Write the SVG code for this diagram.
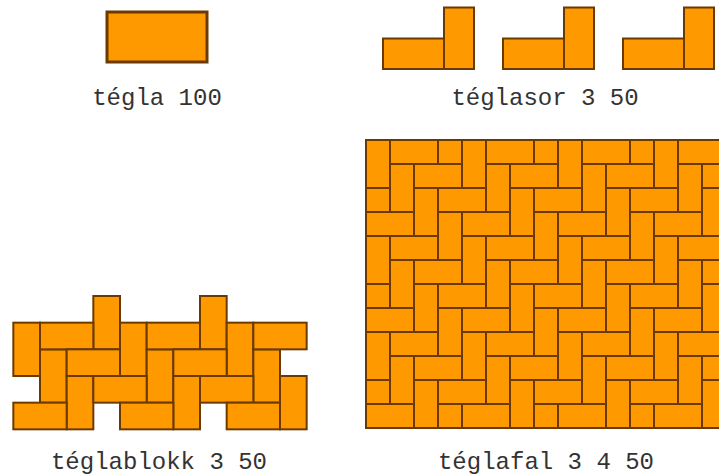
<svg xmlns="http://www.w3.org/2000/svg" xmlns:xlink="http://www.w3.org/1999/xlink" width="719" height="476" viewBox="0 0 719 476">
  <style>
    .b { fill: #ff9900; stroke: #6b3a00; stroke-width: 2; }
    .big { fill: #ff9900; stroke: #6b3a00; stroke-width: 3; }
    .lbl { font-family: "Liberation Mono", "Courier New", monospace; font-size: 24px; fill: #333333; text-anchor: middle; }
  </style>
  <defs>
    <rect id="wh" class="b" width="48" height="24"/>
    <rect id="wv" class="b" width="24" height="48"/>
    <rect id="bh" class="b" width="53.333" height="26.667"/>
    <rect id="bv" class="b" width="26.667" height="53.333"/>
    <g id="L">
      <rect class="b" x="0" y="31" width="61" height="30.5"/>
      <rect class="b" x="61" y="0" width="30" height="61.5"/>
    </g>
    <clipPath id="wallclip">
      <rect x="366" y="140" width="360" height="288"/>
    </clipPath>
  </defs>

  <g id="tegla">
    <rect class="big" x="107" y="12" width="100" height="50"/>
    <text class="lbl" x="157" y="105">tégla 100</text>
  </g>

  <g id="teglasor">
    <use xlink:href="#L" x="383" y="7.5"/>
    <use xlink:href="#L" x="503" y="7.5"/>
    <use xlink:href="#L" x="623" y="7.5"/>
    <text class="lbl" x="545" y="105">téglasor 3 50</text>
  </g>

  <g id="teglablokk">
    <g transform="translate(13.333,296)">
      <use xlink:href="#bv" x="80" y="0"/>
      <use xlink:href="#bv" x="186.667" y="0"/>
      <use xlink:href="#bv" x="0" y="26.667"/>
      <use xlink:href="#bv" x="106.667" y="26.667"/>
      <use xlink:href="#bv" x="213.333" y="26.667"/>
      <use xlink:href="#bv" x="26.667" y="53.333"/>
      <use xlink:href="#bv" x="133.333" y="53.333"/>
      <use xlink:href="#bv" x="240" y="53.333"/>
      <use xlink:href="#bv" x="53.333" y="80"/>
      <use xlink:href="#bv" x="160" y="80"/>
      <use xlink:href="#bv" x="266.667" y="80"/>
      <use xlink:href="#bh" x="26.667" y="26.667"/>
      <use xlink:href="#bh" x="133.333" y="26.667"/>
      <use xlink:href="#bh" x="240" y="26.667"/>
      <use xlink:href="#bh" x="53.333" y="53.333"/>
      <use xlink:href="#bh" x="160" y="53.333"/>
      <use xlink:href="#bh" x="80" y="80"/>
      <use xlink:href="#bh" x="186.667" y="80"/>
      <use xlink:href="#bh" x="0" y="106.667"/>
      <use xlink:href="#bh" x="106.667" y="106.667"/>
      <use xlink:href="#bh" x="213.333" y="106.667"/>
    </g>
    <text class="lbl" x="159" y="469">téglablokk 3 50</text>
  </g>

  <g id="teglafal">
    <g clip-path="url(#wallclip)">
      <use xlink:href="#wh" x="390" y="140"/><use xlink:href="#wh" x="486" y="140"/><use xlink:href="#wh" x="582" y="140"/><use xlink:href="#wh" x="678" y="140"/>
      <use xlink:href="#wh" x="414" y="164"/><use xlink:href="#wh" x="510" y="164"/><use xlink:href="#wh" x="606" y="164"/><use xlink:href="#wh" x="702" y="164"/>
      <use xlink:href="#wh" x="342" y="188"/><use xlink:href="#wh" x="438" y="188"/><use xlink:href="#wh" x="534" y="188"/><use xlink:href="#wh" x="630" y="188"/>
      <use xlink:href="#wh" x="366" y="212"/><use xlink:href="#wh" x="462" y="212"/><use xlink:href="#wh" x="558" y="212"/><use xlink:href="#wh" x="654" y="212"/>
      <use xlink:href="#wh" x="390" y="236"/><use xlink:href="#wh" x="486" y="236"/><use xlink:href="#wh" x="582" y="236"/><use xlink:href="#wh" x="678" y="236"/>
      <use xlink:href="#wh" x="414" y="260"/><use xlink:href="#wh" x="510" y="260"/><use xlink:href="#wh" x="606" y="260"/><use xlink:href="#wh" x="702" y="260"/>
      <use xlink:href="#wh" x="342" y="284"/><use xlink:href="#wh" x="438" y="284"/><use xlink:href="#wh" x="534" y="284"/><use xlink:href="#wh" x="630" y="284"/>
      <use xlink:href="#wh" x="366" y="308"/><use xlink:href="#wh" x="462" y="308"/><use xlink:href="#wh" x="558" y="308"/><use xlink:href="#wh" x="654" y="308"/>
      <use xlink:href="#wh" x="390" y="332"/><use xlink:href="#wh" x="486" y="332"/><use xlink:href="#wh" x="582" y="332"/><use xlink:href="#wh" x="678" y="332"/>
      <use xlink:href="#wh" x="414" y="356"/><use xlink:href="#wh" x="510" y="356"/><use xlink:href="#wh" x="606" y="356"/><use xlink:href="#wh" x="702" y="356"/>
      <use xlink:href="#wh" x="342" y="380"/><use xlink:href="#wh" x="438" y="380"/><use xlink:href="#wh" x="534" y="380"/><use xlink:href="#wh" x="630" y="380"/>
      <use xlink:href="#wh" x="366" y="404"/><use xlink:href="#wh" x="462" y="404"/><use xlink:href="#wh" x="558" y="404"/><use xlink:href="#wh" x="654" y="404"/>

      <use xlink:href="#wv" x="366" y="140"/><use xlink:href="#wv" x="366" y="236"/><use xlink:href="#wv" x="366" y="332"/>
      <use xlink:href="#wv" x="390" y="164"/><use xlink:href="#wv" x="390" y="260"/><use xlink:href="#wv" x="390" y="356"/>
      <use xlink:href="#wv" x="414" y="188"/><use xlink:href="#wv" x="414" y="284"/><use xlink:href="#wv" x="414" y="380"/>
      <use xlink:href="#wv" x="438" y="116"/><use xlink:href="#wv" x="438" y="212"/><use xlink:href="#wv" x="438" y="308"/><use xlink:href="#wv" x="438" y="404"/>
      <use xlink:href="#wv" x="462" y="140"/><use xlink:href="#wv" x="462" y="236"/><use xlink:href="#wv" x="462" y="332"/>
      <use xlink:href="#wv" x="486" y="164"/><use xlink:href="#wv" x="486" y="260"/><use xlink:href="#wv" x="486" y="356"/>
      <use xlink:href="#wv" x="510" y="188"/><use xlink:href="#wv" x="510" y="284"/><use xlink:href="#wv" x="510" y="380"/>
      <use xlink:href="#wv" x="534" y="116"/><use xlink:href="#wv" x="534" y="212"/><use xlink:href="#wv" x="534" y="308"/><use xlink:href="#wv" x="534" y="404"/>
      <use xlink:href="#wv" x="558" y="140"/><use xlink:href="#wv" x="558" y="236"/><use xlink:href="#wv" x="558" y="332"/>
      <use xlink:href="#wv" x="582" y="164"/><use xlink:href="#wv" x="582" y="260"/><use xlink:href="#wv" x="582" y="356"/>
      <use xlink:href="#wv" x="606" y="188"/><use xlink:href="#wv" x="606" y="284"/><use xlink:href="#wv" x="606" y="380"/>
      <use xlink:href="#wv" x="630" y="116"/><use xlink:href="#wv" x="630" y="212"/><use xlink:href="#wv" x="630" y="308"/><use xlink:href="#wv" x="630" y="404"/>
      <use xlink:href="#wv" x="654" y="140"/><use xlink:href="#wv" x="654" y="236"/><use xlink:href="#wv" x="654" y="332"/>
      <use xlink:href="#wv" x="678" y="164"/><use xlink:href="#wv" x="678" y="260"/><use xlink:href="#wv" x="678" y="356"/>
      <use xlink:href="#wv" x="702" y="188"/><use xlink:href="#wv" x="702" y="284"/><use xlink:href="#wv" x="702" y="380"/>
    </g>
    <rect x="366" y="140" width="360" height="288" fill="none" stroke="#6b3a00" stroke-width="2"/>
    <text class="lbl" x="546" y="469">téglafal 3 4 50</text>
  </g>
</svg>
